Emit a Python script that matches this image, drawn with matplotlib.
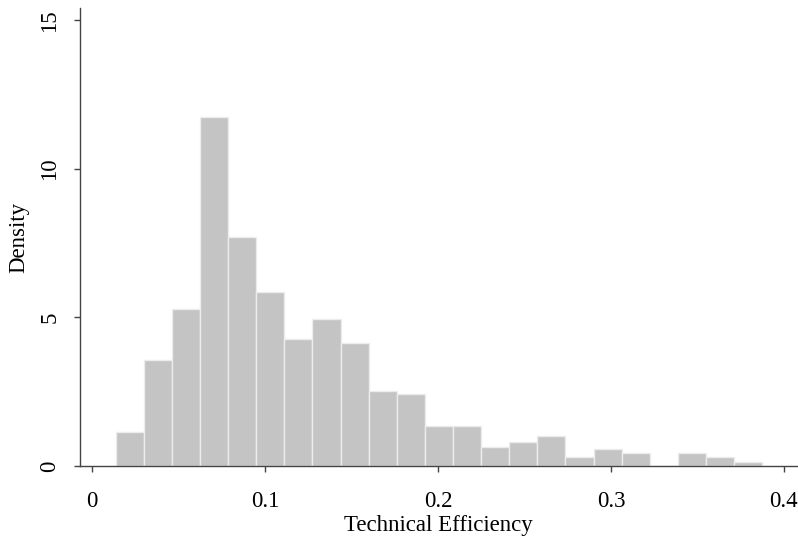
import numpy as np
import matplotlib.pyplot as plt

# histogram of technical efficiency (density scale)
bin_start = 0.0135
bin_width = 0.01626
density = [1.155, 3.57, 5.29, 11.74, 7.72, 5.87, 4.28, 4.95, 4.15, 2.525,
           2.42, 1.35, 1.35, 0.65, 0.80, 1.02, 0.31, 0.56, 0.45, 0.0,
           0.45, 0.31, 0.12]
x_ticks = [0, 0.1, 0.2, 0.3, 0.4]
x_tick_labels = ["0", "0.1", "0.2", "0.3", "0.4"]
y_ticks = [0, 5, 10, 15]

plt.rcParams['font.family'] = ['Liberation Serif', 'DejaVu Serif']

fig = plt.figure(figsize=(7.98, 5.41), dpi=100)
ax = fig.add_axes([80 / 798, 75 / 541, 717 / 798, 458 / 541])

edges = bin_start + bin_width * np.arange(len(density))
ax.bar(edges, density, width=bin_width, align='edge',
       color='#c4c4c4', edgecolor='#ececec', linewidth=1.0, zorder=2)

ax.set_xlim(-0.0071, 0.4076)
ax.set_ylim(0, 15.42)

ax.set_xticks(x_ticks)
ax.set_xticklabels(x_tick_labels)
ax.set_yticks(y_ticks)

for side in ['top', 'right']:
    ax.spines[side].set_visible(False)
for side in ['left', 'bottom']:
    ax.spines[side].set_color('#444444')
    ax.spines[side].set_linewidth(1.0)
    ax.spines[side].set_zorder(3)

ax.tick_params(axis='both', direction='out', length=4.3, width=1.0,
               color='#444444', labelsize=16.5, labelcolor='black')
ax.tick_params(axis='x', pad=14)
ax.tick_params(axis='y', pad=10, labelrotation=90)
for lab in ax.get_yticklabels():
    lab.set_va('center')

ax.set_xlabel("Technical Efficiency", fontsize=16.5, labelpad=2)
ax.set_ylabel("Density", fontsize=16.5, labelpad=7)

fig.savefig("out.png", dpi=100)
